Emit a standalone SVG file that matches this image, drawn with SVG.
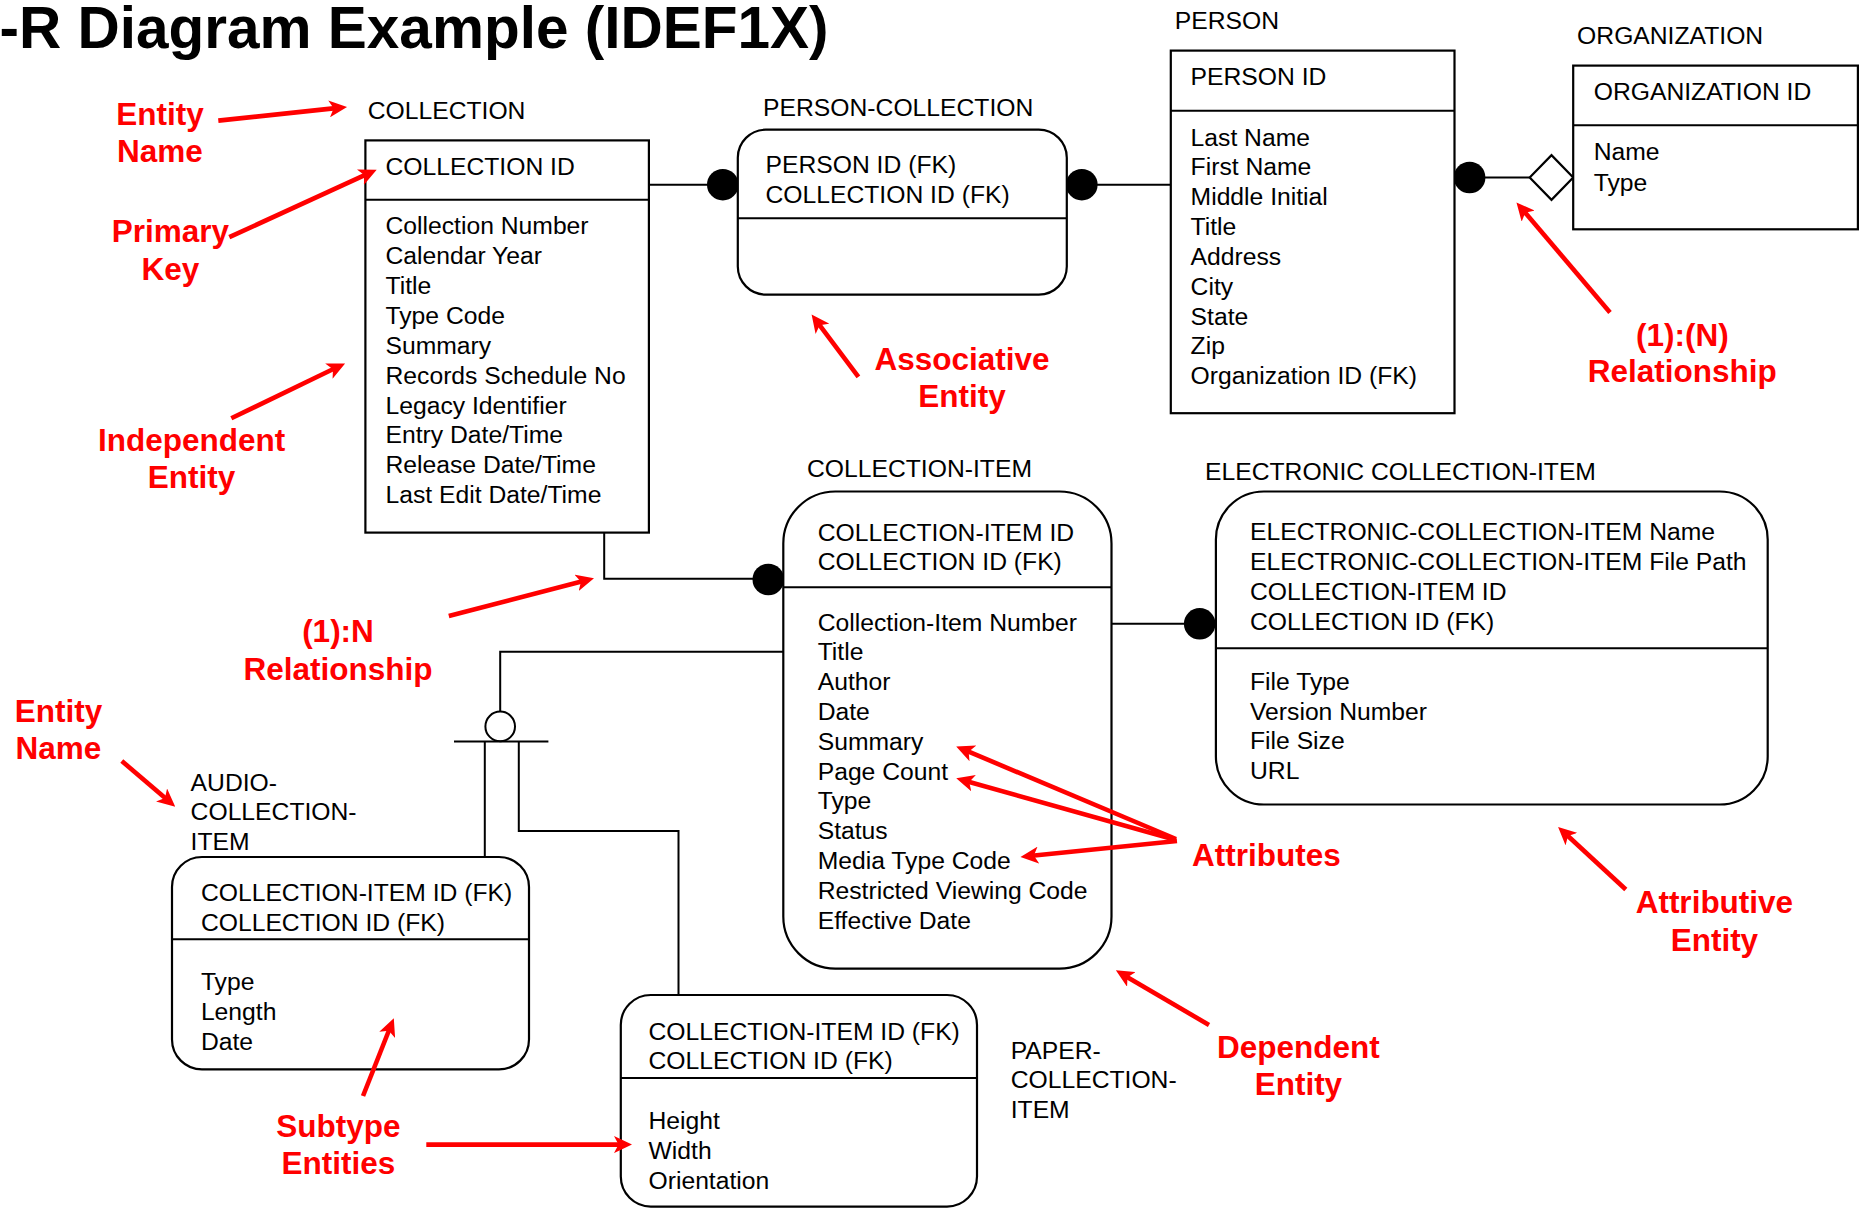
<svg xmlns="http://www.w3.org/2000/svg" width="1863" height="1209" viewBox="0 0 1863 1209">
  <defs>
    <style>
      .lbl { font-family: "Liberation Sans", Arial, sans-serif; font-size: 24.7px; fill: #000; }
      .title { font-family: "Liberation Sans", Arial, sans-serif; font-size: 58.5px; font-weight: bold; fill: #000; }
      .note { font-family: "Liberation Sans", Arial, sans-serif; font-size: 31.5px; font-weight: bold; fill: #ff0000; text-anchor: middle; }
      .box { fill: #fff; stroke: #000; stroke-width: 2.2; }
      .div { stroke: #000; stroke-width: 2; }
      .conn { fill: none; stroke: #000; stroke-width: 2; }
      .dot { fill: #000; }
      .ptr { fill: none; stroke: #ff0000; stroke-width: 4.6; marker-end: url(#redhead); }
    </style>
    <marker id="redhead" markerUnits="userSpaceOnUse" viewBox="0 0 18 17" markerWidth="18" markerHeight="17" refX="9" refY="8.5" orient="auto">
      <path d="M0,0 L18,8.5 L0,17 L4.5,8.5 z" fill="#ff0000"/>
    </marker>
  </defs>

  <rect x="0" y="0" width="1863" height="1209" fill="#fff"/>

  <text class="title" x="-0.5" y="48">-R Diagram Example (IDEF1X)</text>

  <!-- relationship lines and cardinality symbols -->
  <g id="connectors">
    <line class="conn" x1="648.9" y1="184.7" x2="722.8" y2="184.7"/>
    <circle class="dot" cx="722.8" cy="184.7" r="15.8"/>
    <line class="conn" x1="1081.8" y1="184.7" x2="1170.8" y2="184.7"/>
    <circle class="dot" cx="1081.8" cy="184.7" r="15.8"/>
    <line class="conn" x1="1469.6" y1="177.5" x2="1529.7" y2="177.5"/>
    <circle class="dot" cx="1469.6" cy="177.5" r="15.8"/>
    <polygon points="1529.7,177.5 1551.5,155.2 1573.2,177.5 1551.5,199.8" fill="#fff" stroke="#000" stroke-width="2.2"/>
    <polyline class="conn" points="604.2,532.6 604.2,578.8 768.3,578.8"/>
    <circle class="dot" cx="768.3" cy="579.5" r="15.8"/>
    <line class="conn" x1="1111.5" y1="623.8" x2="1199.7" y2="623.8"/>
    <circle class="dot" cx="1199.7" cy="623.8" r="15.8"/>
    <!-- category (subtype) cluster -->
    <polyline class="conn" points="783.3,651.8 500.2,651.8 500.2,711.6"/>
    <circle cx="500.2" cy="726.4" r="14.8" fill="#fff" stroke="#000" stroke-width="2"/>
    <line class="conn" x1="454" y1="741.5" x2="548.4" y2="741.5"/>
    <line class="conn" x1="484.8" y1="741.5" x2="484.8" y2="857"/>
    <polyline class="conn" points="518.8,741.5 518.8,831 678.5,831 678.5,995"/>
  </g>

  <g id="collection">
    <text class="lbl" x="367.7" y="119.4">COLLECTION</text>
    <rect class="box" x="365.4" y="140.4" width="283.5" height="392.2"/>
    <line class="div" x1="365.4" y1="199.7" x2="648.9" y2="199.7"/>
    <text class="lbl" x="385.5" y="174.8">COLLECTION ID</text>
    <text class="lbl" x="385.5" y="234.1">Collection Number<tspan x="385.5" dy="29.9">Calendar Year</tspan><tspan x="385.5" dy="29.9">Title</tspan><tspan x="385.5" dy="29.9">Type Code</tspan><tspan x="385.5" dy="29.9">Summary</tspan><tspan x="385.5" dy="29.9">Records Schedule No</tspan><tspan x="385.5" dy="29.9">Legacy Identifier</tspan><tspan x="385.5" dy="29.9">Entry Date/Time</tspan><tspan x="385.5" dy="29.9">Release Date/Time</tspan><tspan x="385.5" dy="29.9">Last Edit Date/Time</tspan></text>
  </g>

  <g id="person-collection">
    <text class="lbl" x="763.1" y="115.9">PERSON-COLLECTION</text>
    <rect class="box" x="737.8" y="129.7" width="329" height="164.9" rx="28" ry="28"/>
    <line class="div" x1="737.8" y1="218.3" x2="1066.8" y2="218.3"/>
    <text class="lbl" x="765.5" y="172.8">PERSON ID (FK)<tspan x="765.5" dy="29.7">COLLECTION ID (FK)</tspan></text>
  </g>

  <g id="person">
    <text class="lbl" x="1174.8" y="28.9">PERSON</text>
    <rect class="box" x="1170.8" y="50.6" width="283.7" height="362.6"/>
    <line class="div" x1="1170.8" y1="110.7" x2="1454.5" y2="110.7"/>
    <text class="lbl" x="1190.6" y="85">PERSON ID</text>
    <text class="lbl" x="1190.6" y="145.5">Last Name<tspan x="1190.6" dy="29.85">First Name</tspan><tspan x="1190.6" dy="29.85">Middle Initial</tspan><tspan x="1190.6" dy="29.85">Title</tspan><tspan x="1190.6" dy="29.85">Address</tspan><tspan x="1190.6" dy="29.85">City</tspan><tspan x="1190.6" dy="29.85">State</tspan><tspan x="1190.6" dy="29.85">Zip</tspan><tspan x="1190.6" dy="29.85">Organization ID (FK)</tspan></text>
  </g>

  <g id="organization">
    <text class="lbl" x="1577.1" y="43.5">ORGANIZATION</text>
    <rect class="box" x="1573.2" y="65.6" width="284.7" height="163.7"/>
    <line class="div" x1="1573.2" y1="125.3" x2="1857.9" y2="125.3"/>
    <text class="lbl" x="1593.7" y="100">ORGANIZATION ID</text>
    <text class="lbl" x="1593.7" y="160.1">Name<tspan x="1593.7" dy="30.5">Type</tspan></text>
  </g>

  <g id="collection-item">
    <text class="lbl" x="807" y="477.3">COLLECTION-ITEM</text>
    <rect class="box" x="783.3" y="491.5" width="328.2" height="477.1" rx="52" ry="52"/>
    <line class="div" x1="783.3" y1="587.2" x2="1111.5" y2="587.2"/>
    <text class="lbl" x="817.7" y="540.5">COLLECTION-ITEM ID<tspan x="817.7" dy="29.7">COLLECTION ID (FK)</tspan></text>
    <text class="lbl" x="817.7" y="630.5">Collection-Item Number<tspan x="817.7" dy="29.8">Title</tspan><tspan x="817.7" dy="29.8">Author</tspan><tspan x="817.7" dy="29.8">Date</tspan><tspan x="817.7" dy="29.8">Summary</tspan><tspan x="817.7" dy="29.8">Page Count</tspan><tspan x="817.7" dy="29.8">Type</tspan><tspan x="817.7" dy="29.8">Status</tspan><tspan x="817.7" dy="29.8">Media Type Code</tspan><tspan x="817.7" dy="29.8">Restricted Viewing Code</tspan><tspan x="817.7" dy="29.8">Effective Date</tspan></text>
  </g>

  <g id="electronic-collection-item">
    <text class="lbl" x="1205" y="479.6">ELECTRONIC COLLECTION-ITEM</text>
    <rect class="box" x="1215.9" y="491.5" width="551.8" height="313" rx="48" ry="48"/>
    <line class="div" x1="1215.9" y1="648.3" x2="1767.7" y2="648.3"/>
    <text class="lbl" x="1250" y="539.7">ELECTRONIC-COLLECTION-ITEM Name<tspan x="1250" dy="30.2">ELECTRONIC-COLLECTION-ITEM File Path</tspan><tspan x="1250" dy="30.2">COLLECTION-ITEM ID</tspan><tspan x="1250" dy="30.2">COLLECTION ID (FK)</tspan></text>
    <text class="lbl" x="1250" y="689.8">File Type<tspan x="1250" dy="29.7">Version Number</tspan><tspan x="1250" dy="29.7">File Size</tspan><tspan x="1250" dy="29.7">URL</tspan></text>
  </g>

  <g id="audio-collection-item">
    <text class="lbl" x="190.6" y="790.7">AUDIO-<tspan x="190.6" dy="29.7">COLLECTION-</tspan><tspan x="190.6" dy="29.7">ITEM</tspan></text>
    <rect class="box" x="172" y="857" width="357" height="212.4" rx="30" ry="30"/>
    <line class="div" x1="172" y1="939.3" x2="529" y2="939.3"/>
    <text class="lbl" x="200.9" y="901.4">COLLECTION-ITEM ID (FK)<tspan x="200.9" dy="29.6">COLLECTION ID (FK)</tspan></text>
    <text class="lbl" x="200.9" y="990.3">Type<tspan x="200.9" dy="29.7">Length</tspan><tspan x="200.9" dy="29.7">Date</tspan></text>
  </g>

  <g id="paper-collection-item">
    <text class="lbl" x="1010.7" y="1058.7">PAPER-<tspan x="1010.7" dy="29.5">COLLECTION-</tspan><tspan x="1010.7" dy="29.5">ITEM</tspan></text>
    <rect class="box" x="620.8" y="995" width="356.2" height="211.6" rx="30" ry="30"/>
    <line class="div" x1="620.8" y1="1078" x2="977" y2="1078"/>
    <text class="lbl" x="648.5" y="1039.8">COLLECTION-ITEM ID (FK)<tspan x="648.5" dy="28.8">COLLECTION ID (FK)</tspan></text>
    <text class="lbl" x="648.5" y="1128.7">Height<tspan x="648.5" dy="30">Width</tspan><tspan x="648.5" dy="30">Orientation</tspan></text>
  </g>

  <!-- red callouts -->
  <g id="annotations">
    <text class="note" x="160" y="124.6">Entity<tspan x="160" dy="37.5">Name</tspan></text>
    <line class="ptr" x1="218.3" y1="120.6" x2="338.1" y2="107.9"/>
    <text class="note" x="170.3" y="242">Primary<tspan x="170.3" dy="38">Key</tspan></text>
    <line class="ptr" x1="229.3" y1="237.2" x2="368.5" y2="173.4"/>
    <text class="note" x="191.6" y="450.8">Independent<tspan x="191.6" dy="36.8">Entity</tspan></text>
    <line class="ptr" x1="231.3" y1="418.3" x2="337" y2="367.3"/>
    <text class="note" x="338" y="642.4">(1):N<tspan x="338" dy="37.6">Relationship</tspan></text>
    <line class="ptr" x1="448.8" y1="616" x2="585.3" y2="580.5"/>
    <text class="note" x="58.5" y="721.5">Entity<tspan x="58.5" dy="37.5">Name</tspan></text>
    <line class="ptr" x1="121.8" y1="761" x2="168.4" y2="800.8"/>
    <text class="note" x="962" y="369.7">Associative<tspan x="962" dy="37.6">Entity</tspan></text>
    <line class="ptr" x1="858.4" y1="376.8" x2="817" y2="321.6"/>
    <text class="note" x="1682.3" y="346">(1):(N)<tspan x="1682.3" dy="35.6">Relationship</tspan></text>
    <line class="ptr" x1="1610" y1="312.4" x2="1522.3" y2="209.3"/>
    <text class="note" x="1266.4" y="866">Attributes</text>
    <line class="ptr" x1="1176" y1="839" x2="964.5" y2="749.9"/>
    <line class="ptr" x1="1176" y1="840" x2="964.9" y2="780.7"/>
    <line class="ptr" x1="1177" y1="841" x2="1029.4" y2="856"/>
    <text class="note" x="1714.4" y="913.2">Attributive<tspan x="1714.4" dy="37.6">Entity</tspan></text>
    <line class="ptr" x1="1625.8" y1="889.5" x2="1564.7" y2="833"/>
    <text class="note" x="1298.4" y="1057.5">Dependent<tspan x="1298.4" dy="37.5">Entity</tspan></text>
    <line class="ptr" x1="1209" y1="1025" x2="1123.6" y2="974.9"/>
    <text class="note" x="338.5" y="1136.6">Subtype<tspan x="338.5" dy="37.6">Entities</tspan></text>
    <line class="ptr" x1="363" y1="1096" x2="390.5" y2="1026.5"/>
    <line class="ptr" x1="426.3" y1="1144.6" x2="623" y2="1144.6"/>
  </g>
</svg>
